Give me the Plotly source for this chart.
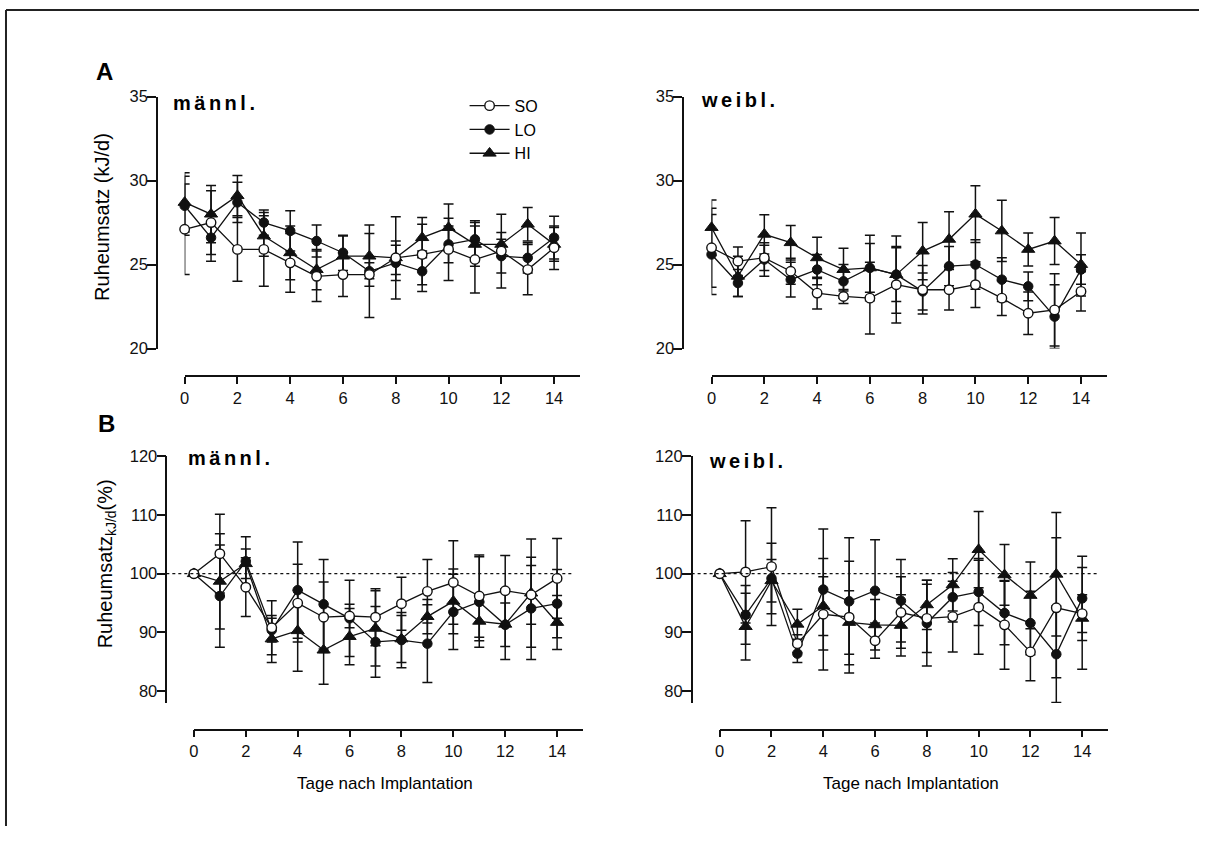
import plotly.graph_objects as go

# page is 1207 x 851; the html body keeps its default 8px margin,
# so the figure itself is 8px smaller on each side that it can use
W, H = 1207, 851
OFF = 8
FW, FH = W - OFF, H - 2 * OFF

days = list(range(15))
day_ticks = [0, 2, 4, 6, 8, 10, 12, 14]

# ---- A: Ruheumsatz (kJ/d), männl. ----
am_so = [27.1, 27.5, 25.9, 25.9, 25.1, 24.3, 24.4, 24.4, 25.4, 25.6, 25.9, 25.3, 25.8, 24.7, 26.0]
am_so_err = [2.7, 1.9, 1.9, 2.2, 1.75, 1.5, 1.3, 0.7, 1.0, 1.8, 1.85, 2.0, 2.2, 1.5, 1.3]
am_lo = [28.5, 26.6, 28.7, 27.5, 27.0, 26.4, 25.7, 24.6, 25.1, 24.6, 26.2, 26.5, 25.5, 25.4, 26.6]
am_lo_err = [1.75, 1.4, 1.2, 0.75, 1.2, 0.95, 1.05, 2.75, 1.05, 1.2, 1.1, 1.1, 1.0, 0.9, 1.27]
am_hi = [28.7, 28.0, 29.1, 26.7, 25.7, 24.7, 25.5, 25.5, 25.4, 26.6, 27.2, 26.2, 26.2, 27.4, 26.2]
am_hi_err = [1.77, 1.7, 1.2, 1.2, 1.6, 1.2, 1.2, 1.35, 2.45, 1.2, 1.4, 1.3, 0.7, 1.0, 1.0]

# ---- A: weibl. ----
af_so = [26.0, 25.2, 25.4, 24.6, 23.3, 23.1, 23.0, 23.8, 23.5, 23.5, 23.8, 23.0, 22.1, 22.3, 23.4]
af_so_err = [2.35, 0.85, 0.75, 0.78, 0.94, 0.42, 2.14, 2.28, 1.45, 1.2, 1.36, 1.03, 1.27, 2.15, 1.17]
af_lo = [25.6, 23.9, 25.3, 24.1, 24.7, 24.0, 24.8, 24.4, 23.4, 24.9, 25.0, 24.1, 23.7, 21.9, 24.7]
af_lo_err = [2.38, 0.8, 1.0, 1.04, 0.9, 1.0, 1.45, 1.6, 1.1, 1.17, 1.47, 1.3, 0.85, 1.9, 0.88]
af_hi = [27.2, 24.3, 26.8, 26.3, 25.4, 24.7, 24.8, 24.4, 25.8, 26.5, 28.0, 27.0, 25.9, 26.4, 25.0]
af_hi_err = [1.64, 1.2, 1.17, 1.03, 1.23, 1.27, 1.95, 2.3, 1.7, 1.64, 1.69, 1.82, 0.98, 1.4, 1.88]

# ---- B: Ruheumsatz (%), männl. ----
bm_so = [100, 103.4, 97.7, 90.8, 95.0, 92.6, 92.8, 92.6, 94.9, 97.0, 98.5, 96.2, 97.1, 96.4, 99.2]
bm_so_err = [0, 6.7, 5.0, 4.6, 6.6, 6.0, 2.0, 4.85, 4.5, 5.4, 7.1, 7.0, 6.0, 5.0, 6.8]
bm_lo = [100, 96.2, 102.1, 90.4, 97.2, 94.8, 92.4, 88.4, 88.7, 88.1, 93.5, 95.2, 91.3, 94.1, 94.9]
bm_lo_err = [0, 8.7, 4.2, 2.0, 8.2, 7.6, 6.5, 6.0, 4.7, 6.6, 6.4, 7.7, 3.7, 8.7, 5.8]
bm_hi = [100, 98.7, 101.7, 88.9, 90.3, 87.0, 89.3, 90.7, 88.9, 92.7, 95.3, 91.9, 91.4, 96.7, 91.7]
bm_hi_err = [0, 8.1, 2.5, 4.0, 6.9, 5.8, 4.8, 6.4, 4.0, 2.9, 5.5, 3.3, 6.0, 9.2, 4.6]

# ---- B: weibl. ----
bf_so = [100, 100.3, 101.2, 88.1, 93.1, 92.6, 88.6, 93.4, 92.4, 92.7, 94.3, 91.3, 86.7, 94.2, 93.2]
bf_so_err = [0, 8.7, 10.0, 1.5, 9.5, 9.5, 3.0, 6.1, 5.8, 6.0, 8.0, 7.55, 4.9, 11.9, 3.2]
bf_lo = [100, 93.0, 99.2, 86.4, 97.3, 95.3, 97.1, 95.4, 91.6, 96.0, 96.9, 93.3, 91.6, 86.3, 95.8]
bf_lo_err = [0, 5.0, 6.0, 1.5, 10.3, 10.8, 8.67, 7.0, 7.3, 4.2, 5.7, 5.4, 5.4, 8.2, 7.16]
bf_hi = [100, 91.0, 98.8, 91.4, 94.5, 91.7, 91.3, 91.2, 94.7, 98.1, 104.1, 99.8, 96.3, 99.9, 92.4]
bf_hi_err = [0, 5.67, 3.6, 2.56, 5.0, 5.4, 4.3, 5.2, 4.2, 4.45, 6.5, 5.16, 5.67, 10.5, 8.66]

A_ticks = [20, 25, 30, 35]
B_ticks = [80, 90, 100, 110, 120]

FONT = "Liberation Sans, Arial, sans-serif"
INK = "#111111"


def fx(px):  # page pixel x -> paper fraction
    return (px - OFF) / FW


def fy(py):  # page pixel y -> paper fraction
    return 1 - (py - OFF) / FH


# panel geometry in page pixels
panels = [
    dict(k=1, data=(am_so, am_so_err, am_lo, am_lo_err, am_hi, am_hi_err), yline=160.5, x0=188.4, ux=26.5,
         ytop_px=97.5, ytop=35, ybot_px=355.0, ybot=20, xline=383.5, yt=A_ticks, legend=True),
    dict(k=2, data=(af_so, af_so_err, af_lo, af_lo_err, af_hi, af_hi_err), yline=689, x0=717.5, ux=26.5,
         ytop_px=97.5, ytop=35, ybot_px=355.0, ybot=20, xline=383.5, yt=A_ticks, legend=False),
    dict(k=3, data=(bm_so, bm_so_err, bm_lo, bm_lo_err, bm_hi, bm_hi_err), yline=170, x0=197.7, ux=26.05,
         ytop_px=465, ytop=120, ybot_px=717.3, ybot=78, xline=744.5, yt=B_ticks, legend=False),
    dict(k=4, data=(bf_so, bf_so_err, bf_lo, bf_lo_err, bf_hi, bf_hi_err), yline=697.5, x0=725.7, ux=26.0,
         ytop_px=465, ytop=120, ybot_px=717.3, ybot=78, xline=744.5, yt=B_ticks, legend=False),
]

fig = go.Figure()
layout_axes = {}
shapes = []

styles = {
    "SO": dict(symbol="circle", size=9.5, color="white", line=dict(color=INK, width=1.4)),
    "LO": dict(symbol="circle", size=9.5, color=INK, line=dict(color=INK, width=1)),
    "HI": dict(symbol="triangle-up", size=11.5, color=INK, line=dict(color=INK, width=1)),
}
rank = {"SO": 1, "LO": 2, "HI": 3}

for p in panels:
    k = p["k"]
    so, so_e, lo, lo_e, hi, hi_e = p["data"]
    xname = "x" if k == 1 else f"x{k}"
    yname = "y" if k == 1 else f"y{k}"
    vals = {"SO": (so, so_e), "LO": (lo, lo_e), "HI": (hi, hi_e)}
    for name in ["HI", "LO", "SO"]:
        y, e = vals[name]
        fig.add_trace(go.Scatter(
            x=days, y=y, mode="lines+markers", name=name,
            xaxis=xname, yaxis=yname,
            line=dict(color=INK, width=1.3),
            marker=styles[name],
            error_y=dict(type="data", array=e, visible=True, color=INK, thickness=1.5, width=5),
            showlegend=p["legend"], legendrank=rank[name], cliponaxis=False,
            hoverinfo="skip",
        ))
    x15 = p["x0"] + 15 * p["ux"]
    axkey = "xaxis" if k == 1 else f"xaxis{k}"
    aykey = "yaxis" if k == 1 else f"yaxis{k}"
    layout_axes[axkey] = dict(
        domain=[fx(p["x0"]), fx(x15)], range=[0, 15], anchor="free", position=fy(p["xline"]),
        tickvals=day_ticks, ticks="outside", ticklen=7, tickwidth=1.5, tickcolor=INK,
        showline=True, linewidth=1.5, linecolor=INK, showgrid=False, zeroline=False,
        tickfont=dict(family=FONT, size=16.5, color=INK), fixedrange=True,
    )
    layout_axes[aykey] = dict(
        domain=[fy(p["ybot_px"]), fy(p["ytop_px"])], range=[p["ybot"], p["ytop"]],
        anchor="free", position=fx(p["yline"]),
        tickvals=p["yt"], ticks="outside", ticklen=9, tickwidth=1.5, tickcolor=INK,
        ticklabelstandoff=-4,
        showline=True, linewidth=1.5, linecolor=INK, showgrid=False, zeroline=False,
        tickfont=dict(family=FONT, size=16.5, color=INK), fixedrange=True,
    )
    if k >= 3:
        shapes.append(dict(type="line", xref="paper", yref=yname,
                           x0=fx(p["yline"]), x1=fx(p["x0"] + 14.6 * p["ux"]), y0=100, y1=100,
                           line=dict(color=INK, width=1.2, dash="dot")))

# frame lines (top and left)
shapes.append(dict(type="line", xref="paper", yref="paper", x0=fx(9), x1=1.0, y0=fy(9), y1=fy(9),
                   line=dict(color="#222222", width=2)))
shapes.append(dict(type="line", xref="paper", yref="paper", x0=fx(9), x1=fx(9), y0=fy(9), y1=0,
                   line=dict(color="#222222", width=2)))


def ann(text, xpx, ypx, size, xanchor="center", yanchor="middle", angle=0, weight="normal"):
    return dict(text=text, x=fx(xpx), y=fy(ypx), xref="paper", yref="paper",
                xanchor=xanchor, yanchor=yanchor, showarrow=False, textangle=angle,
                font=dict(family=FONT, size=size, color="black", weight=weight))


sp = '<span style="letter-spacing:3.5px">{}</span>'
annotations = [
    ann("A", 107.5, 71.5, 24, weight="bold"),
    ann("B", 110, 431.5, 24, weight="bold"),
    ann(sp.format("männl."), 174.5, 104.5, 20, xanchor="left", weight="bold"),
    ann(sp.format("weibl."), 705, 101.5, 20, xanchor="left", weight="bold"),
    ann(sp.format("männl."), 190, 467, 20, xanchor="left", weight="bold"),
    ann(sp.format("weibl."), 713, 469.5, 20, xanchor="left", weight="bold"),
    ann("Ruheumsatz (kJ/d)", 106, 221, 20, angle=-90),
    ann("Ruheumsatz<sub>kJ/d</sub>(%)", 110, 575, 20, angle=-90),
    ann("Tage nach Implantation", 390, 800, 17),
    ann("Tage nach Implantation", 918, 800, 17),
]

fig.update_layout(
    width=FW, height=FH,
    margin=dict(l=0, r=0, t=0, b=0),
    paper_bgcolor="white", plot_bgcolor="rgba(0,0,0,0)",
    showlegend=True,
    legend=dict(x=fx(469.5), y=fy(89.5), xanchor="left", yanchor="top",
                font=dict(family=FONT, size=16, color="black"),
                bgcolor="rgba(0,0,0,0)", traceorder="normal", itemsizing="trace",
                itemwidth=40, tracegroupgap=0),
    shapes=shapes,
    annotations=annotations,
    **layout_axes,
)

fig.write_html("out.html", config={"displayModeBar": False})
